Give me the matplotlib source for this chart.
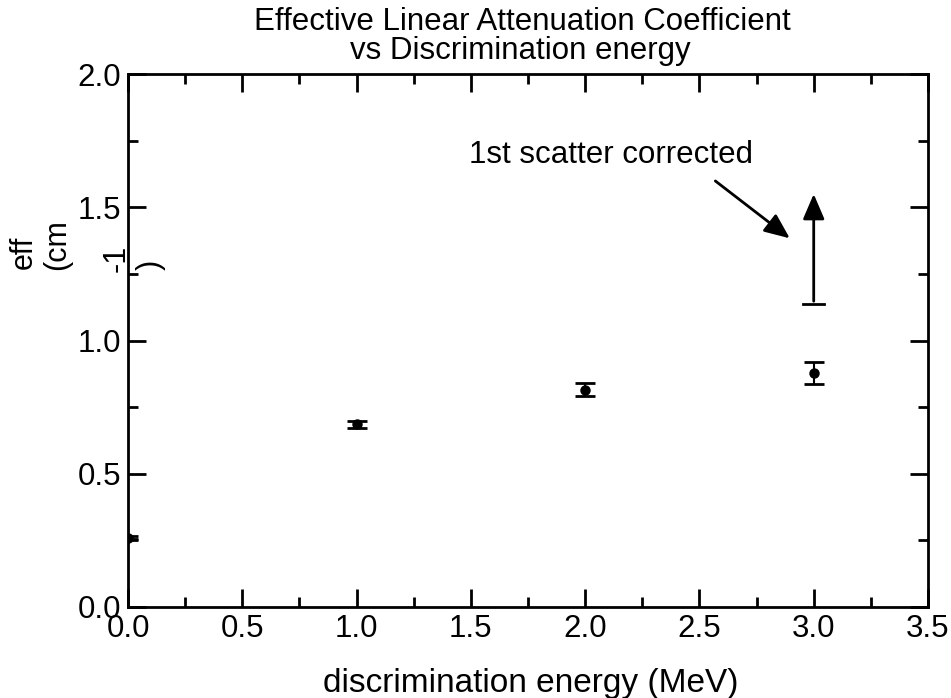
import matplotlib
matplotlib.use("Agg")
import matplotlib.pyplot as plt
from matplotlib.ticker import MultipleLocator, FormatStrFormatter

plt.rcParams['font.family'] = ['Liberation Sans', 'DejaVu Sans']

# measured points
energy = [0.0, 1.0, 2.0, 3.0]
mu_eff = [0.26, 0.685, 0.815, 0.878]
mu_err = [0.006, 0.012, 0.025, 0.04]

# 1st scatter corrected lower bound at 3 MeV
corr_x = 3.0
corr_low = 1.137
corr_high = 1.56

fig = plt.figure(figsize=(9.51, 6.98), dpi=100)
ax = fig.add_axes([128 / 951, 1 - 607 / 698, 800 / 951, 533 / 698])

ax.errorbar(energy, mu_eff, yerr=mu_err, fmt='o', color='black', ms=6.5,
            capsize=7, capthick=2, elinewidth=1.5)

# corrected arrow (cap at bottom, arrow pointing up)
ax.plot([corr_x - 0.045, corr_x + 0.045], [corr_low, corr_low], color='black', lw=2)
ax.annotate('', xy=(corr_x, corr_high), xytext=(corr_x, corr_low),
            arrowprops=dict(arrowstyle='-|>,head_width=0.3,head_length=0.7',
                            color='black', lw=2, mutation_scale=22))

ax.annotate('', xy=(2.905, 1.377), xytext=(2.56, 1.605),
            arrowprops=dict(arrowstyle='-|>,head_width=0.3,head_length=0.7',
                            color='black', lw=2, mutation_scale=22))
ax.text(2.113, 1.696, '1st scatter corrected', fontsize=22.5, ha='center', va='center')

ax.set_xlim(0, 3.5)
ax.set_ylim(0, 2.0)
ax.xaxis.set_major_locator(MultipleLocator(0.5))
ax.xaxis.set_minor_locator(MultipleLocator(0.25))
ax.yaxis.set_major_locator(MultipleLocator(0.5))
ax.yaxis.set_minor_locator(MultipleLocator(0.25))
ax.xaxis.set_major_formatter(FormatStrFormatter('%.1f'))
ax.yaxis.set_major_formatter(FormatStrFormatter('%.1f'))
ax.tick_params(which='both', direction='in', top=True, right=True, width=2,
               labelsize=22.5, pad=5)
ax.tick_params(which='major', length=13)
ax.tick_params(which='minor', length=7)
for s in ax.spines.values():
    s.set_linewidth(2)

fig.text(531 / 951, 1 - 692 / 698, 'discrimination energy (MeV)', fontsize=24,
         ha='center', va='baseline')

# broken y-label pieces
for txt, px, py in [('eff', 24, 252), ('(cm', 57, 245), ('-1', 117, 258), (')', 151, 265)]:
    fig.text(px / 951, 1 - py / 698, txt, rotation=90, fontsize=22,
             ha='center', va='center')

fig.text(522 / 951, 1 - 22 / 698, 'Effective Linear Attenuation Coefficient',
         fontsize=22.5, ha='center', va='center')
fig.text(520 / 951, 1 - 51 / 698, 'vs Discrimination energy',
         fontsize=22.5, ha='center', va='center')

fig.savefig('out.png', dpi=100)
